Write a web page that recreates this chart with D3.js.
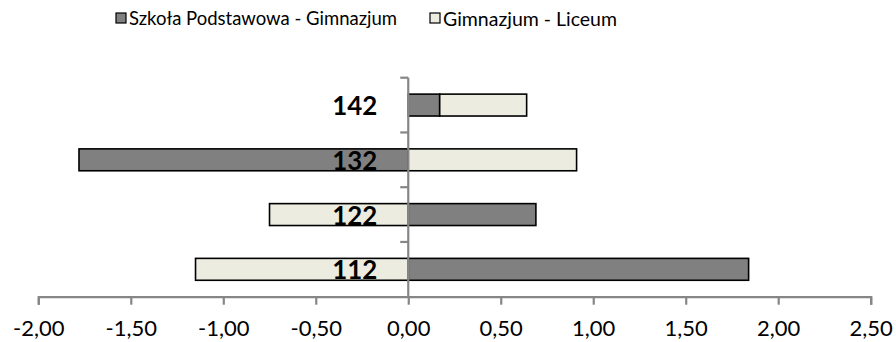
<!DOCTYPE html>
<html><head><meta charset="utf-8">
<script src="https://cdn.jsdelivr.net/npm/d3@7"></script>
<style>body{margin:0;background:#fff}svg{display:block}text{font-family:Lato,"Open Sans",sans-serif}</style>
</head><body><svg id="c" width="896" height="342"></svg>
<script>
const categories = ["142", "132", "122", "112"];
const seriesNames = ["Szkoła Podstawowa - Gimnazjum", "Gimnazjum - Liceum"];
const spGim = [0.17, -1.78, 0.69, 1.84];
const gimLic = [0.47, 0.91, -0.75, -1.15];
const xTicks = [-2, -1.5, -1, -0.5, 0, 0.5, 1, 1.5, 2, 2.5];
const colors = ["#808080", "#ECECE0"];

const svg = d3.select("#c");
const x = d3.scaleLinear().domain([-2, 2.5]).range([38.3, 870.7]);
const y = d3.scaleBand().domain(categories).range([77.7, 296.7]).paddingInner(0.6).paddingOuter(0.3);
const yb = d3.scaleBand().domain(categories).range([77.7, 296.7]);

// scale a text's font-size so that its width matches a target width
function fit(sel, base, target) {
  sel.style("font-size", base + "px");
  const w = sel.node().getComputedTextLength();
  sel.style("font-size", (base * target / w).toFixed(2) + "px");
}

const rows = categories.map((c, i) => ({cat: c, a: spGim[i], b: gimLic[i]}));
const stack = d3.stack().keys(["a", "b"]).offset(d3.stackOffsetDiverging);
const layers = stack(rows);

svg.append("g").selectAll("g").data(layers).join("g")
  .attr("fill", (d, i) => colors[i])
  .selectAll("rect").data(d => d).join("rect")
  .attr("x", d => x(Math.min(d[0], d[1])))
  .attr("width", d => Math.abs(x(d[1]) - x(d[0])))
  .attr("y", d => y(d.data.cat))
  .attr("height", y.bandwidth())
  .attr("stroke", "#000").attr("stroke-width", 1.6);

const locale = d3.formatLocale({decimal: ",", thousands: " ", grouping: [3], currency: ["", ""], minus: "-"});
const fmt = locale.format(".2f");

const axisColor = "#868686";
const xAxis = svg.append("g").attr("transform", `translate(0,${yb.range()[1]})`)
  .call(d3.axisBottom(x).tickValues(xTicks).tickFormat(fmt).tickSize(8).tickSizeOuter(8).tickPadding(18));
xAxis.select(".domain").attr("stroke", axisColor).attr("stroke-width", 2.2);
xAxis.selectAll(".tick line").attr("stroke", axisColor).attr("stroke-width", 2.2);
// measure "0,00" to pick font size
const probe = svg.append("text").text(fmt(0));
fit(probe, 22, 43.3);
const tickFont = probe.style("font-size");
probe.remove();
xAxis.selectAll(".tick text").attr("fill", "#000").attr("dy", null).attr("y", 39)
  .style("font-size", tickFont).style("font-family", 'Lato,"Open Sans",sans-serif');

// vertical category axis at zero
const yAxisG = svg.append("g");
yAxisG.append("line").attr("x1", x(0)).attr("x2", x(0)).attr("y1", yb.range()[0]).attr("y2", yb.range()[1])
  .attr("stroke", axisColor).attr("stroke-width", 2.2);
yAxisG.selectAll("line.t").data(categories).join("line").attr("class", "t")
  .attr("x1", x(0) - 8).attr("x2", x(0)).attr("y1", d => yb(d)).attr("y2", d => yb(d))
  .attr("stroke", axisColor).attr("stroke-width", 2.2);

const labs = svg.append("g").selectAll("text").data(categories).join("text")
  .attr("x", x(0) - 31).attr("y", d => yb(d) + yb.bandwidth() / 2)
  .attr("text-anchor", "end").attr("dominant-baseline", "central")
  .style("font-weight", "bold").attr("fill", "#000")
  .text(d => d);
fit(d3.select(labs.node()), 26, 45);
labs.style("font-size", d3.select(labs.node()).style("font-size"));

// legend
const legendX = [116, 430];
const legendW = [268, 174];
const lg = svg.append("g");
seriesNames.forEach((n, i) => {
  lg.append("rect").attr("x", legendX[i]).attr("y", 13).attr("width", 10).attr("height", 10)
    .attr("fill", colors[i]).attr("stroke", "#000").attr("stroke-width", 1.2);
  const t = lg.append("text").attr("x", legendX[i] + 13).attr("y", 18).attr("dominant-baseline", "central")
    .attr("fill", "#000").text(n);
  fit(t, 20, legendW[i]);
});
</script></body></html>
